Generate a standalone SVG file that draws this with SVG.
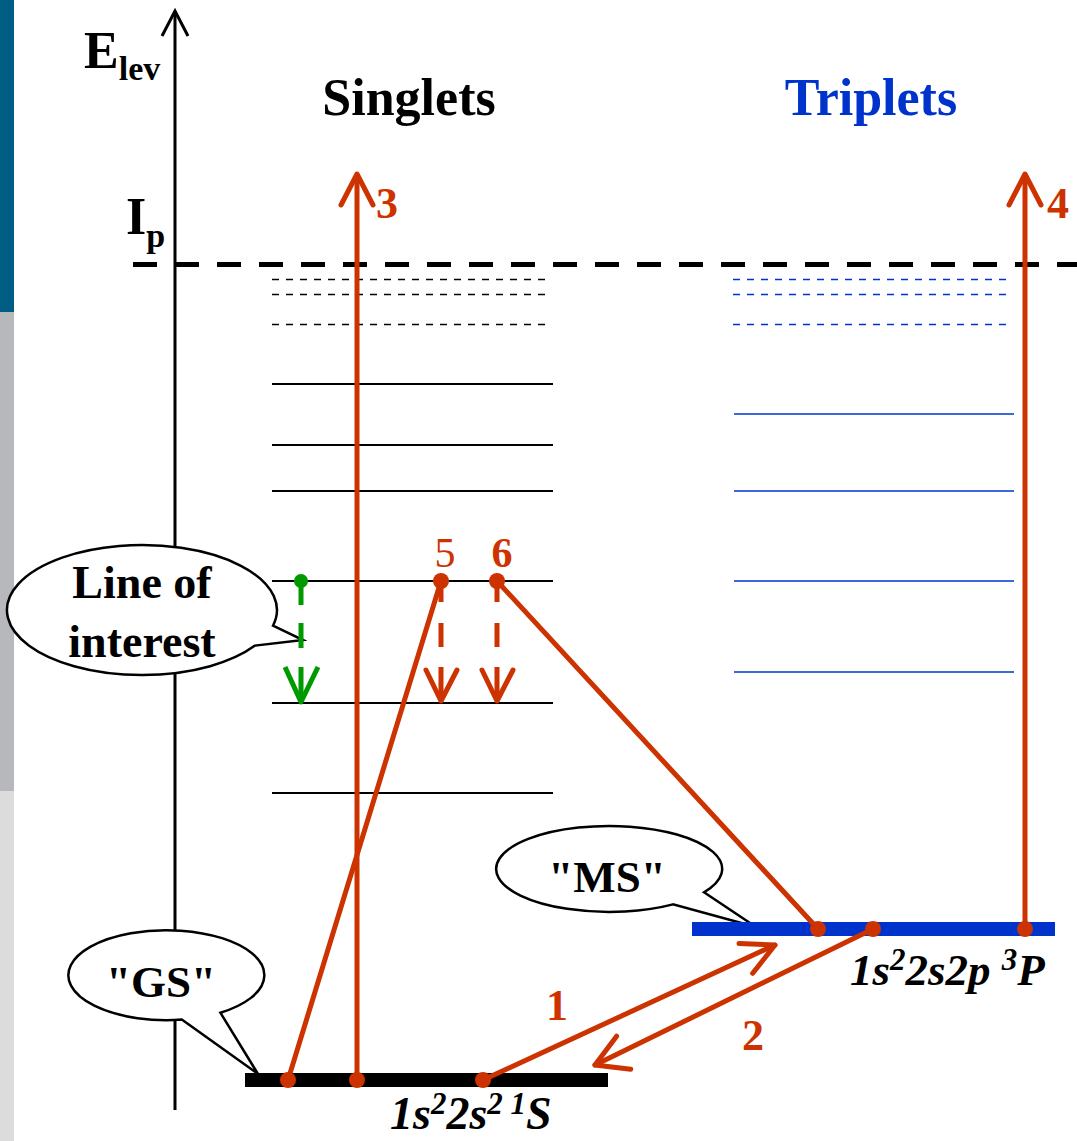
<svg xmlns="http://www.w3.org/2000/svg" width="1077" height="1141" viewBox="0 0 1077 1141">
<style>
.t{font-family:"Liberation Serif","Times New Roman",serif;font-weight:bold}
.red{fill:#cc3300}
.rs{stroke:#cc3300;stroke-width:5;fill:none;stroke-linecap:round;stroke-linejoin:round}
.gs{stroke:#009900;stroke-width:5;fill:none;stroke-linecap:butt;stroke-linejoin:round}
.lvl{stroke:#000;stroke-width:2}
.lvlb{stroke:#0033cc;stroke-width:1.6}
.dk{stroke:#000;stroke-width:1.6;stroke-dasharray:7 7}
.db{stroke:#0033cc;stroke-width:1.6;stroke-dasharray:7 7}
.call{fill:#fff;stroke:#000;stroke-width:2.5}
</style>
<rect width="1077" height="1141" fill="#fff"/>
<g id="sidebar">
<rect x="0" y="0" width="14" height="312" fill="#005e85"/>
<rect x="0" y="312" width="14" height="479" fill="#b7b8bc"/>
<rect x="0" y="791" width="14" height="350" fill="#dcdcdc"/>
</g>
<g id="axis">
<line x1="175" y1="11" x2="175" y2="1110" stroke="#000" stroke-width="3"/>
<path d="M162,36 L175,11 L188,36" fill="none" stroke="#000" stroke-width="3"/>
<text class="t" x="84" y="68" font-size="52">E<tspan font-size="34" dy="12">lev</tspan></text>
<text class="t" x="126" y="234" font-size="52">I<tspan font-size="34" dy="13">p</tspan></text>
</g>
<g id="headers">
<text class="t" x="409" y="115" font-size="52" text-anchor="middle">Singlets</text>
<text class="t" x="871" y="115" font-size="52" text-anchor="middle" fill="#0033cc">Triplets</text>
</g>
<g id="ionization">
<line x1="133" y1="264.5" x2="1077" y2="264.5" stroke="#000" stroke-width="5" stroke-dasharray="24 18"/>
</g>
<g id="singlet-levels">
<line class="dk" x1="272" y1="279.5" x2="547" y2="279.5"/>
<line class="dk" x1="272" y1="294.5" x2="547" y2="294.5"/>
<line class="dk" x1="272" y1="324.5" x2="547" y2="324.5"/>
<line class="lvl" x1="272" y1="384" x2="553" y2="384"/>
<line class="lvl" x1="272" y1="445" x2="553" y2="445"/>
<line class="lvl" x1="272" y1="491" x2="553" y2="491"/>
<line class="lvl" x1="272" y1="581" x2="553" y2="581"/>
<line class="lvl" x1="272" y1="703" x2="553" y2="703"/>
<line class="lvl" x1="272" y1="793" x2="553" y2="793"/>
</g>
<g id="triplet-levels">
<line class="db" x1="733" y1="279.5" x2="1008" y2="279.5"/>
<line class="db" x1="733" y1="294.5" x2="1008" y2="294.5"/>
<line class="db" x1="733" y1="324.5" x2="1008" y2="324.5"/>
<line class="lvlb" x1="734" y1="414" x2="1014" y2="414"/>
<line class="lvlb" x1="734" y1="491" x2="1014" y2="491"/>
<line class="lvlb" x1="734" y1="581" x2="1014" y2="581"/>
<line class="lvlb" x1="734" y1="672" x2="1014" y2="672"/>
</g>
<g id="callout-line-of-interest">
<path class="call" d="M273,625.7 L303,640 L255,645.6 A135,65 0 1 1 273,625.7 Z"/>
<text class="t" x="142" y="598" font-size="46" text-anchor="middle">Line of</text>
<text class="t" x="142" y="657" font-size="46" text-anchor="middle">interest</text>
</g>
<g id="callout-GS">
<path class="call" d="M220.4,1012.7 L258,1074 L181.8,1019.6 A98,45 0 1 1 220.4,1012.7 Z"/>
<text class="t" x="161" y="997" font-size="45" text-anchor="middle">"GS"</text>
</g>
<g id="callout-MS">
<path class="call" d="M704,892.3 L756,927 L673,904.4 A113,43 0 1 1 704,892.3 Z"/>
<text class="t" x="607" y="892" font-size="45" text-anchor="middle">"MS"</text>
</g>
<g id="state-GS">
<rect x="245" y="1073" width="363" height="14" fill="#000"/>
<text class="t" x="390" y="1129" font-size="46" font-style="italic">1s<tspan font-size="31" dy="-15">2</tspan><tspan dy="15">2s</tspan><tspan font-size="31" dy="-15">2 1</tspan><tspan dy="15">S</tspan></text>
</g>
<g id="state-MS">
<rect x="692" y="922" width="363" height="14" fill="#0033cc"/>
<text class="t" x="850" y="985" font-size="45" font-style="italic">1s<tspan font-size="31" dy="-15">2</tspan><tspan dy="15">2s2p </tspan><tspan font-size="31" dy="-15">3</tspan><tspan dy="15">P</tspan></text>
</g>
<g id="connectors">
<line class="rs" x1="357" y1="1080" x2="357" y2="176"/>
<path class="rs" d="M341,205 L357,174 L373,205"/>
<line class="rs" x1="1025" y1="929" x2="1025" y2="176"/>
<path class="rs" d="M1009,205 L1025,174 L1041,205"/>
<line class="rs" x1="288" y1="1080" x2="441" y2="581"/>
<line class="rs" x1="818" y1="929" x2="497" y2="581"/>
<line class="rs" x1="483" y1="1080" x2="775" y2="945"/>
<path class="rs" d="M739,943.6 L775,945 L752.7,973.3"/>
<line class="rs" x1="873" y1="929" x2="595" y2="1065"/>
<path class="rs" d="M630.7,1069.3 L595,1065 L616.6,1036.2"/>
<path d="M441,581 V602 M441,623 V647 M441,667 V700" stroke="#cc3300" stroke-width="5" fill="none"/>
<path class="rs" d="M426,670 L441,701 L457,670"/>
<path d="M497,581 V602 M497,623 V647 M497,667 V700" stroke="#cc3300" stroke-width="5" fill="none"/>
<path class="rs" d="M482,670 L497,701 L513,670"/>
<path d="M301,581 V605 M301,623 V648 M301,667 V700" class="gs"/>
<path d="M285,667 L301,702 L318,667" class="gs" stroke-linecap="round"/>
<circle cx="301" cy="581" r="7" fill="#009900"/>
<g class="red">
<circle cx="288" cy="1080" r="8"/>
<circle cx="357" cy="1080" r="8"/>
<circle cx="483" cy="1080" r="8"/>
<circle cx="818" cy="929" r="8"/>
<circle cx="873" cy="929" r="8"/>
<circle cx="1025" cy="929" r="8"/>
<circle cx="441" cy="581" r="8"/>
<circle cx="497" cy="581" r="8"/>
</g>
</g>
<g id="labels" class="red">
<text class="t" x="376" y="218" font-size="44">3</text>
<text class="t" x="1047" y="218" font-size="44">4</text>
<text x="445" y="567" font-size="42" text-anchor="middle" font-family="Liberation Serif, serif">5</text>
<text class="t" x="502" y="567" font-size="42" text-anchor="middle">6</text>
<text class="t" x="557" y="1020" font-size="44" text-anchor="middle">1</text>
<text class="t" x="753" y="1050" font-size="44" text-anchor="middle">2</text>
</g>
</svg>
